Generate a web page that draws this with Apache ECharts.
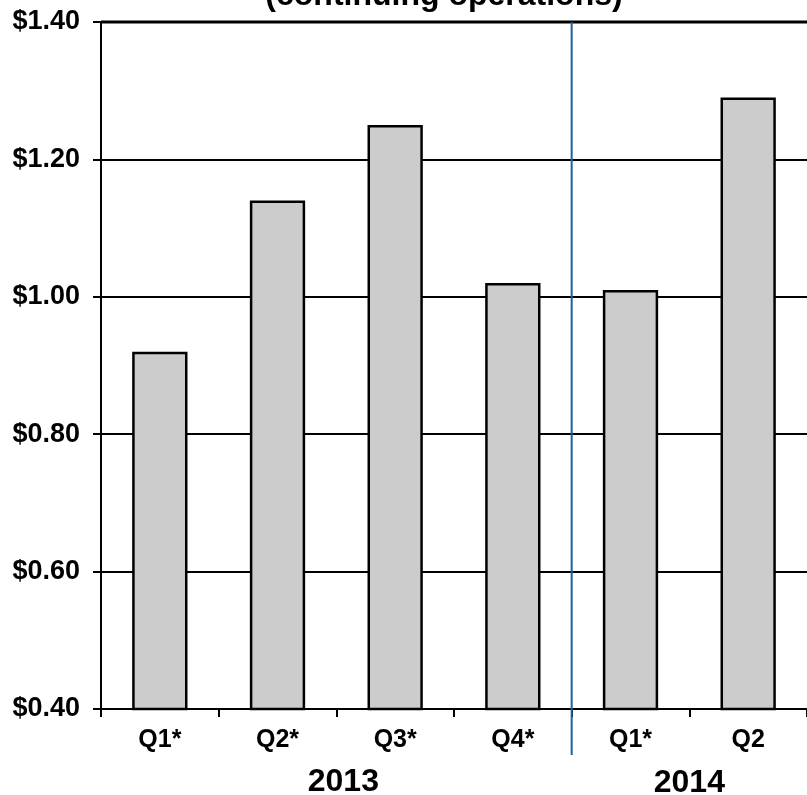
<!DOCTYPE html>
<html><head><meta charset="utf-8">
<script src="https://cdn.jsdelivr.net/npm/echarts@6/dist/echarts.min.js"></script>
<style>html,body{margin:0;padding:0;background:#fff}#c{width:807px;height:795px}</style>
</head><body><div id="c"></div>
<script>
const categories = ['Q1*','Q2*','Q3*','Q4*','Q1*','Q2'];
const values = [0.92, 1.14, 1.25, 1.02, 1.01, 1.29];
const years = ['2013','2014'];
const yearSpans = [[0,3],[4,5]];
const titleText = '(continuing operations)';
const FONT = '"Liberation Sans", Arial, sans-serif';

const chart = echarts.init(document.getElementById('c'), null, {renderer:'canvas'});
chart.setOption({
  animation:false,
  backgroundColor:'#fff',
  grid:{left:101, right:0, top:22, bottom:86, containLabel:false},
  xAxis:{
    type:'category', data:categories,
    axisLine:{lineStyle:{color:'#000', width:2}},
    axisTick:{show:true, length:8, lineStyle:{color:'#000', width:2}, alignWithLabel:false},
    axisLabel:{color:'#000', fontFamily:FONT, fontWeight:'bold', fontSize:25, margin:19},
    splitLine:{show:false}
  },
  yAxis:{
    type:'value', min:0.4, max:1.4, interval:0.2,
    axisLine:{show:true, lineStyle:{color:'#000', width:2}},
    axisTick:{show:true, length:8, lineStyle:{color:'#000', width:2}},
    axisLabel:{color:'#000', fontFamily:FONT, fontWeight:'bold', fontSize:27, margin:21,
      formatter:v=>'$'+v.toFixed(2)},
    splitLine:{show:true, lineStyle:{color:'#000', width:2}}
  },
  series:[{
    type:'bar', data:values, barWidth:'47%',
    itemStyle:{color:'#cccccc', borderColor:'#000', borderWidth:2.5}
  }]
});

function decorate(){
  const yTop = chart.convertToPixel({yAxisIndex:0}, 1.4);
  const xa = chart.convertToPixel({xAxisIndex:0}, 3);
  const xb = chart.convertToPixel({xAxisIndex:0}, 4);
  const sep = (xa+xb)/2;
  const w = 807;
  const elements = [
    {type:'line', shape:{x1:101, y1:yTop, x2:w, y2:yTop}, style:{stroke:'#000', lineWidth:3}, z:10},
    {type:'line', shape:{x1:sep, y1:yTop, x2:sep, y2:755}, style:{stroke:'#1f5f9f', lineWidth:2}, z:11},
    {type:'text', x:444, y:-4, style:{text:titleText, fill:'#000', font:'bold 32px '+FONT, textAlign:'center', textVerticalAlign:'middle'}}
  ];
  const offs = [7, 0];
  years.forEach((y,i)=>{
    const a = chart.convertToPixel({xAxisIndex:0}, yearSpans[i][0]);
    const b = chart.convertToPixel({xAxisIndex:0}, yearSpans[i][1]);
    elements.push({type:'text', x:(a+b)/2 + offs[i], y: i===0?782:783, style:{text:y, fill:'#000', font:'bold 32px '+FONT, textAlign:'center', textVerticalAlign:'middle'}});
  });
  chart.setOption({graphic:{elements}});
}
decorate();
</script></body></html>
